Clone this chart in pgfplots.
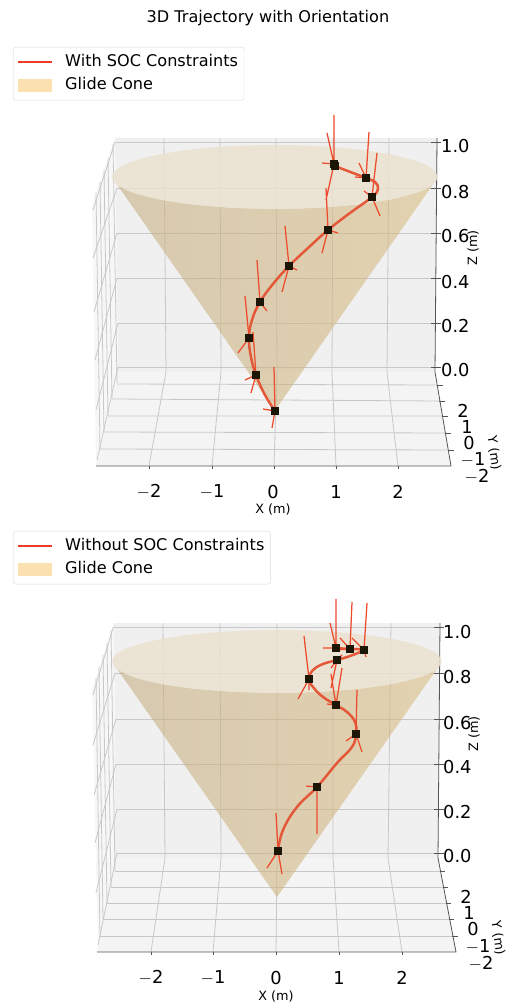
\documentclass[border=0pt]{standalone}
\usepackage{pgfplots}
\pgfplotsset{compat=1.18}
\usepackage{fontspec}
\setmainfont{DejaVu Sans}
\definecolor{wallback}{HTML}{F0F0F0}
\definecolor{wallleft}{HTML}{F7F7F7}
\definecolor{wallfloor}{HTML}{F4F4F4}
\definecolor{gridc}{HTML}{C8C8C8}
\definecolor{spine}{HTML}{555555}
\definecolor{conel}{HTML}{C4AC80}
\definecolor{coner}{HTML}{D8BA7C}
\definecolor{rimc}{HTML}{EAE2CF}
\definecolor{traj}{HTML}{E4583A}
\definecolor{orient}{HTML}{EE4A2C}
\definecolor{mk}{HTML}{1C1606}
\definecolor{legline}{HTML}{F03A28}
\definecolor{legarea}{HTML}{FBE0B0}
\newcommand\tickf{\fontsize{17.8}{20}\selectfont}
\newcommand\labf{\fontsize{12.8}{14}\selectfont}
\newcommand\legf{\fontsize{16.1}{19}\selectfont}
\newcommand\m{\ensuremath{-}}
\tikzset{tl/.style={inner sep=0pt}}
\pgfplotsset{
  pix/.style={scale only axis,hide axis,clip=false,unbounded coords=jump,y dir=reverse,
    xmin=0,xmax=507,width=507pt,
    legend cell align=left,
    legend style={font=\legf,draw=black!15,rounded corners=2.5pt,inner xsep=4pt,inner ysep=4.5pt,
      row sep=3pt,nodes={inner sep=2pt,text height=12.5pt,text depth=4pt}}},
  wall/.style={forget plot,draw=none},
  gridl/.style={forget plot,color=gridc,line width=0.8pt},
  spn/.style={forget plot,color=spine,line width=0.8pt},
  tj/.style={forget plot,color=traj,line width=2.5pt,smooth,tension=0.7},
  ori/.style={forget plot,color=orient,line width=1.25pt},
  mks/.style={forget plot,only marks,mark=square*,mark size=3.5pt,mark options={fill=mk,draw=mk,line width=0pt}},
  conebody/.style={forget plot,draw=none,left color=conel,right color=coner,opacity=0.56},
  rim/.style={forget plot,draw=none,fill=rimc,opacity=0.82},
  leglinei/.style={legend image code/.code={\draw[legline,line width=1.7pt] (0pt,0pt)--(34pt,0pt);\path (45pt,0pt) circle (0pt);}},
  legareai/.style={legend image code/.code={\fill[legarea,rounded corners=0pt] (0pt,-6pt) rectangle (33pt,6pt);\path (45pt,0pt) circle (0pt);}},
}
\begin{document}
\begin{tikzpicture}[x=1pt,y=1pt]
\path[use as bounding box] (0,0) rectangle (507,1003);
% ---------- upper panel
\begin{axis}[pix,at={(0pt,488pt)},anchor=south west,height=515pt,ymin=0,ymax=515,
  legend style={at={(13/507,1-47/515)},anchor=north west}]
\addlegendimage{leglinei}
\addlegendimage{legareai}
\addplot[wall,fill=wallback] coordinates {(115,138)(438,138)(435,372)(118,372)} --cycle;
\addplot[wall,fill=wallleft] coordinates {(115,138)(92,205)(96,466)(118,372)} --cycle;
\addplot[wall,fill=wallfloor] coordinates {(118,372)(435,372)(451,466)(96,466)} --cycle;
% grid: back wall
\addplot[gridl] coordinates {(116,142)(435,142)(nan,nan)(117,188)(435,188)(nan,nan)(117,233)(435,233)(nan,nan)(117,278)(435,278)(nan,nan)(118,323)(435,323)(nan,nan)(118,367)(435,367)};
\addplot[gridl] coordinates {(164,138)(166,372)(nan,nan)(220,138)(221,372)(nan,nan)(276,138)(277,372)(nan,nan)(333,138)(332,372)(nan,nan)(389,138)(387,372)};
% grid: left wall
\addplot[gridl] coordinates {(115,142)(93,210)(nan,nan)(117,188)(93,258)(nan,nan)(117,233)(94,312)(nan,nan)(117,278)(95,360)(nan,nan)(118,323)(96,410)(nan,nan)(118,367)(97,460)};
\addplot[gridl] coordinates {(113,144)(117,383)(nan,nan)(108,158)(112,399)(nan,nan)(104,170)(108,416)(nan,nan)(100,182)(104,432)(nan,nan)(96,193)(100,449)};
% grid: floor
\addplot[gridl] coordinates {(166,372)(149,466)(nan,nan)(221,372)(212,466)(nan,nan)(277,372)(274,466)(nan,nan)(332,372)(336,466)(nan,nan)(387,372)(398,466)};
\addplot[gridl] coordinates {(117,384)(437,385)(nan,nan)(112,399)(439,401)(nan,nan)(108,416)(442,416)(nan,nan)(104,432)(445,433)(nan,nan)(100,449)(448,450)};
% spines and ticks
\addplot[spn] coordinates {(96,466)(451,466)(435,372)(437,138)};
\addplot[spn] coordinates {(431,142)(441,142)(nan,nan)(431,188)(441,188)(nan,nan)(431,233)(441,233)(nan,nan)(431,278)(441,278)(nan,nan)(431,323)(441,323)(nan,nan)(431,367)(441,367)};
\addplot[spn] coordinates {(437,385)(443,385)(nan,nan)(439,401)(445,401)(nan,nan)(442,416)(448,416)(nan,nan)(445,433)(451,433)(nan,nan)(448,450)(454,450)};
\addplot[spn] coordinates {(149,466)(149,469)(nan,nan)(212,466)(212,469)(nan,nan)(274,466)(274,469)(nan,nan)(336,466)(336,469)(nan,nan)(398,466)(398,469)};
% cone
\addplot[conebody] coordinates {(275,410.5)(117.6,185.3)(133.8,193)(159.7,199.6)(193.5,204.7)(232.8,207.9)(275,209)(317.2,207.9)(356.5,204.7)(390.3,199.6)(416.2,193)(432.4,185.3)} --cycle;
\addplot[rim,smooth,tension=0.6] coordinates {(438,177)(432.4,168.7)(416.2,161)(390.3,154.4)(356.5,149.3)(317.2,146.1)(275,145)(232.8,146.1)(193.5,149.3)(159.7,154.4)(133.8,161)(117.6,168.7)(112,177)(117.6,185.3)(133.8,193)(159.7,199.6)(193.5,204.7)(232.8,207.9)(275,209)(317.2,207.9)(356.5,204.7)(390.3,199.6)(416.2,193)(432.4,185.3)(438,177)};
% trajectory
\addplot[tj] coordinates {(275,411)(265,395)(256,375)(251,357)(249,338)(252,320)(260,302)(273,284)(289,266)(308,248)(328,230)(350,213)(372,197)(378,189)(375,182)(366,178)(353,173)(340,168)(335,166)};
% orientation axes
\addplot[ori] coordinates {(275,411)(274,367)(nan,nan)(275,411)(263,409)(nan,nan)(275,411)(272,428)
 (nan,nan)(256,375)(253,332)(nan,nan)(256,375)(245,380)(nan,nan)(256,375)(251,393)
 (nan,nan)(249,338)(245,296)(nan,nan)(249,338)(238,353)(nan,nan)(249,338)(246,341)
 (nan,nan)(260,302)(257,260)(nan,nan)(260,302)(267,311)(nan,nan)(260,302)(255,312)
 (nan,nan)(289,266)(285,226)(nan,nan)(289,266)(297,270)(nan,nan)(289,266)(282,292)
 (nan,nan)(328,230)(326,188)(nan,nan)(328,230)(338,233)(nan,nan)(328,230)(322,253)
 (nan,nan)(372,197)(377,153)(nan,nan)(372,197)(364,191)(nan,nan)(372,197)(380,216)
 (nan,nan)(366,178)(369,132)(nan,nan)(366,178)(359,163)(nan,nan)(366,178)(355,177)
 (nan,nan)(334,164)(334,115)(nan,nan)(334,164)(327,133)(nan,nan)(334,164)(322,163)(nan,nan)(334,164)(326,200)};
\addplot[mks] coordinates {(275,411)(256,375)(249,338)(260,302)(289,266)(328,230)(372,197)(366,178)(334,164)(335,166)};
% text
\node at (axis cs:268,18) {\legf 3D Trajectory with Orientation};
\node[tl,anchor=west] at (axis cs:441,146) {\tickf 1.0};
\node[tl,anchor=west] at (axis cs:441,192) {\tickf 0.8};
\node[tl,anchor=west] at (axis cs:441,236) {\tickf 0.6};
\node[tl,anchor=west] at (axis cs:441,282) {\tickf 0.4};
\node[tl,anchor=west] at (axis cs:441,326) {\tickf 0.2};
\node[tl,anchor=west] at (axis cs:441,370) {\tickf 0.0};
\node[tl] at (axis cs:149,492) {\tickf \m2};
\node[tl] at (axis cs:212,492) {\tickf \m1};
\node[tl] at (axis cs:273,492) {\tickf 0};
\node[tl] at (axis cs:336,492) {\tickf 1};
\node[tl] at (axis cs:398,492) {\tickf 2};
\node[tl] at (axis cs:463,411) {\tickf 2};
\node[tl] at (axis cs:467,427) {\tickf 1};
\node[tl] at (axis cs:469,443) {\tickf 0};
\node[tl] at (axis cs:473,460) {\tickf \m1};
\node[tl] at (axis cs:477,477) {\tickf \m2};
\node[tl] at (axis cs:273,509) {\labf X (m)};
\node[tl,rotate=90] at (axis cs:473,248) {\labf Z (m)};
\node[tl,rotate=-82] at (axis cs:494,453) {\labf Y (m)};
\legend{With SOC Constraints,Glide Cone}
\end{axis}
% ---------- lower panel
\begin{axis}[pix,at={(0pt,0pt)},anchor=south west,height=488pt,ymin=515,ymax=1003,
  legend style={at={(13/507,1-16/488)},anchor=north west}]
\addlegendimage{leglinei}
\addlegendimage{legareai}
\addplot[wall,fill=wallback] coordinates {(114,623)(440,623)(438,858)(115,858)} --cycle;
\addplot[wall,fill=wallleft] coordinates {(114,623)(92,688)(98,952)(115,858)} --cycle;
\addplot[wall,fill=wallfloor] coordinates {(115,858)(438,858)(456,952)(97,952)} --cycle;
\addplot[gridl] coordinates {(113,627)(438,627)(nan,nan)(115,673)(438,673)(nan,nan)(116,719)(438,719)(nan,nan)(116,764)(438,764)(nan,nan)(117,809)(438,809)(nan,nan)(117,853)(438,853)};
\addplot[gridl] coordinates {(163,623)(165,858)(nan,nan)(220,623)(221,858)(nan,nan)(277,623)(277,858)(nan,nan)(333,623)(333,858)(nan,nan)(391,623)(388,858)};
\addplot[gridl] coordinates {(113,628)(93,695)(nan,nan)(115,673)(93,745)(nan,nan)(116,719)(94,795)(nan,nan)(116,764)(95,843)(nan,nan)(117,809)(96,893)(nan,nan)(117,853)(98,945)};
\addplot[gridl] coordinates {(111,630)(115,871)(nan,nan)(107,643)(111,887)(nan,nan)(103,655)(107,903)(nan,nan)(99,667)(103,919)(nan,nan)(96,678)(100,936)};
\addplot[gridl] coordinates {(165,858)(151,952)(nan,nan)(221,858)(213,952)(nan,nan)(277,858)(276,952)(nan,nan)(333,858)(339,952)(nan,nan)(388,858)(402,952)};
\addplot[gridl] coordinates {(115,871)(440,871)(nan,nan)(111,887)(443,887)(nan,nan)(107,903)(446,903)(nan,nan)(103,919)(449,919)(nan,nan)(100,936)(452,936)};
\addplot[spn] coordinates {(97,952)(456,952)(438,858)(440,623)};
\addplot[spn] coordinates {(434,627)(444,627)(nan,nan)(434,673)(444,673)(nan,nan)(434,719)(444,719)(nan,nan)(434,764)(444,764)(nan,nan)(434,809)(444,809)(nan,nan)(434,853)(444,853)};
\addplot[spn] coordinates {(440,871)(445,871)(nan,nan)(443,887)(448,887)(nan,nan)(446,903)(451,903)(nan,nan)(449,919)(454,919)(nan,nan)(452,936)(458,936)};
\addplot[spn] coordinates {(151,952)(151,955)(nan,nan)(213,952)(213,955)(nan,nan)(276,952)(276,955)(nan,nan)(339,952)(339,955)(nan,nan)(402,952)(402,955)};
\addplot[conebody] coordinates {(277,897)(117.6,669.7)(134.1,677.3)(160.3,683.8)(194.5,688.8)(234.3,691.9)(277,693)(319.7,691.9)(359.5,688.8)(393.7,683.8)(419.9,677.3)(436.4,669.7)} --cycle;
\addplot[rim,smooth,tension=0.6] coordinates {(442,661.5)(436.4,653.3)(419.9,645.7)(393.7,639.2)(359.5,634.2)(319.7,631.1)(277,630)(234.3,631.1)(194.5,634.2)(160.3,639.2)(134.1,645.7)(117.6,653.3)(112,661.5)(117.6,669.7)(134.1,677.3)(160.3,683.8)(194.5,688.8)(234.3,691.9)(277,693)(319.7,691.9)(359.5,688.8)(393.7,683.8)(419.9,677.3)(436.4,669.7)(442,661.5)};
\addplot[tj] coordinates {(278,851)(283,830)(297,807)(317,787)(337,763)(352,747)(356,734)(355,722)(347,712)(336,705)(323,697)(313,687)(309,679)(313,670)(323,664)(337,660)(350,656)(364,650)(357,649)(350,649)(336,648)};
\addplot[ori] coordinates {(278,851)(276,813)(nan,nan)(278,851)(267,868)(nan,nan)(278,851)(282,874)
 (nan,nan)(317,787)(317,834)(nan,nan)(317,787)(306,786)(nan,nan)(317,787)(319,783)
 (nan,nan)(356,734)(357,690)(nan,nan)(356,734)(346,741)(nan,nan)(356,734)(362,752)
 (nan,nan)(336,705)(342,668)(nan,nan)(336,705)(331,674)(nan,nan)(336,705)(327,704)
 (nan,nan)(309,679)(304,636)(nan,nan)(309,679)(298,699)(nan,nan)(309,679)(309,690)
 (nan,nan)(337,660)(331,688)(nan,nan)(337,660)(342,655)(nan,nan)(337,660)(331,668)
 (nan,nan)(364,650)(367,603)(nan,nan)(364,650)(352,638)(nan,nan)(364,650)(366,657)
 (nan,nan)(350,649)(352,602)(nan,nan)(350,649)(340,638)(nan,nan)(350,649)(335,650)
 (nan,nan)(336,648)(336,599)(nan,nan)(336,648)(330,623)(nan,nan)(336,648)(323,648)};
\addplot[mks] coordinates {(278,851)(317,787)(356,734)(336,705)(309,679)(337,660)(364,650)(350,649)(336,648)};
\node[tl,anchor=west] at (axis cs:443,632) {\tickf 1.0};
\node[tl,anchor=west] at (axis cs:443,677) {\tickf 0.8};
\node[tl,anchor=west] at (axis cs:443,723) {\tickf 0.6};
\node[tl,anchor=west] at (axis cs:443,767) {\tickf 0.4};
\node[tl,anchor=west] at (axis cs:443,812) {\tickf 0.2};
\node[tl,anchor=west] at (axis cs:443,856) {\tickf 0.0};
\node[tl] at (axis cs:151,978) {\tickf \m2};
\node[tl] at (axis cs:213,978) {\tickf \m1};
\node[tl] at (axis cs:276,978) {\tickf 0};
\node[tl] at (axis cs:339,978) {\tickf 1};
\node[tl] at (axis cs:402,978) {\tickf 2};
\node[tl] at (axis cs:466,897) {\tickf 2};
\node[tl] at (axis cs:469,913) {\tickf 1};
\node[tl] at (axis cs:473,929) {\tickf 0};
\node[tl] at (axis cs:478,947) {\tickf \m1};
\node[tl] at (axis cs:481,964) {\tickf \m2};
\node[tl] at (axis cs:276,996) {\labf X (m)};
\node[tl,rotate=90] at (axis cs:474,734) {\labf Z (m)};
\node[tl,rotate=-82] at (axis cs:498,938) {\labf Y (m)};
\legend{Without SOC Constraints,Glide Cone}
\end{axis}
\end{tikzpicture}
\end{document}
